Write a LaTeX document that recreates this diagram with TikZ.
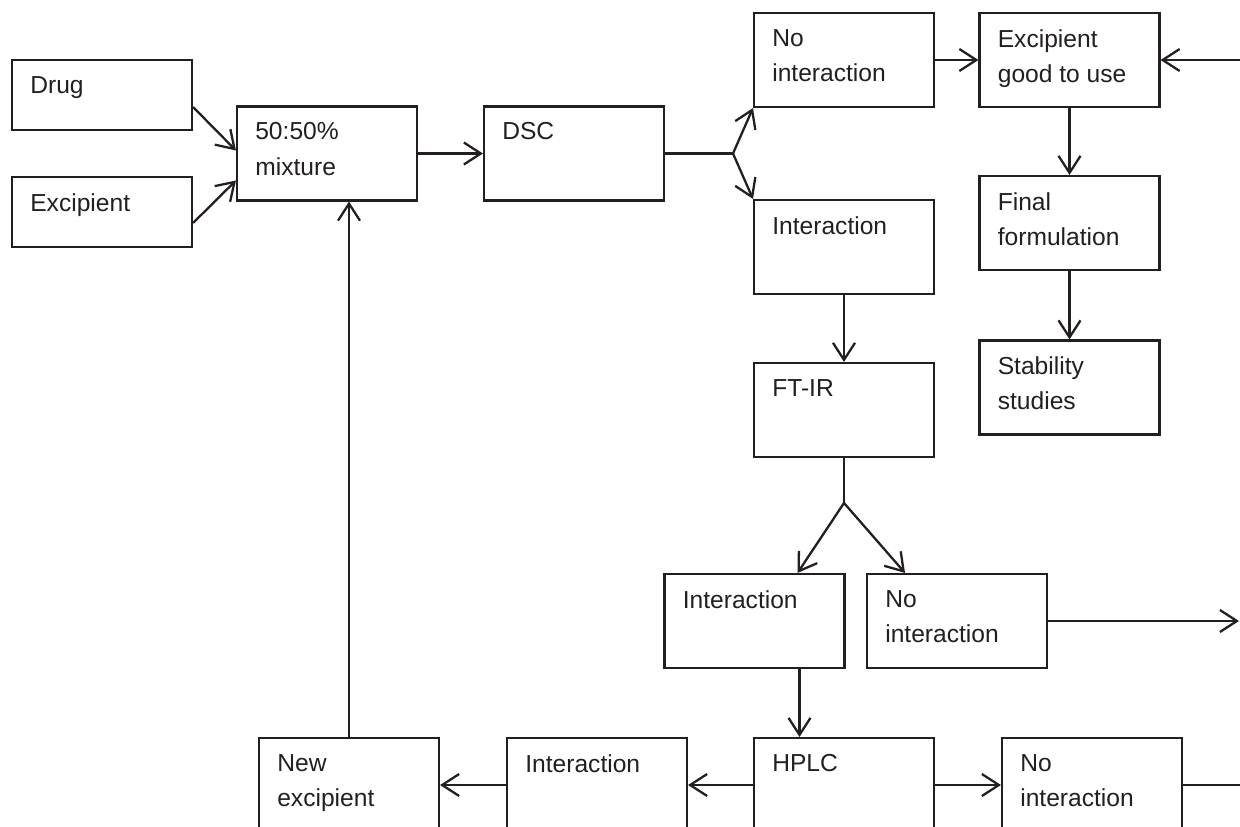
\documentclass[tikz,border=0pt]{standalone}
\usepackage{fontspec}
\setmainfont{Liberation Sans}
\usetikzlibrary{arrows.meta}
\definecolor{ink}{RGB}{35,31,32}

\tikzset{
  box/.style={draw=ink, line width=1.2pt, minimum width=3.6cm, minimum height=1.88cm, inner sep=0pt},
  txt/.style={anchor=north west, align=left, inner sep=0pt, xshift=0.38cm, yshift=-0.34cm,
    text=ink, font=\fontsize{14pt}{20pt}\selectfont},
  flow/.style={draw=ink, line width=1.3pt},
}

\begin{document}
\begin{tikzpicture}[x=0.02cm, y=-0.02cm, >={Straight Barb[length=3.4mm,width=4.4mm]}]
\useasboundingbox (0,0) rectangle (1240,827);
\clip (0,0) rectangle (1240,827);
\node [box, minimum height=1.4cm, label={[txt]north west:Drug}] (drug) at (102,95) {};
\node [box, minimum height=1.4cm, label={[txt]north west:Excipient}] (excip) at (102,212) {};
\node [box, label={[txt]north west:50{:}50\%\\mixture}] (mix) at (327,153.5) {};
\node [box, label={[txt]north west:DSC}] (dsc) at (574,153.5) {};
\node [box, label={[txt]north west:No\\interaction}] (noint) at (844,60) {};
\node [box, label={[txt]north west:Excipient\\good to use}] (good) at (1069.5,60) {};
\node [box, label={[txt]north west:Interaction}] (inter) at (844,247) {};
\node [box, label={[txt]north west:Final\\formulation}] (final) at (1069.5,223) {};
\node [box, label={[txt]north west:FT-IR}] (ftir) at (844,410) {};
\node [box, label={[txt]north west:Stability\\studies}] (stab) at (1069.5,387.5) {};
\node [box, label={[txt]north west:Interaction}] (ftinter) at (754.5,621) {};
\node [box, label={[txt]north west:No\\interaction}] (ftnoint) at (957,621) {};
\node [box, label={[txt]north west:HPLC}] (hplc) at (844,785) {};
\node [box, label={[txt]north west:Interaction}] (hpinter) at (597,785) {};
\node [box, label={[txt]north west:New\\excipient}] (newexc) at (349,785) {};
\node [box, label={[txt]north west:No\\interaction}] (hpnoint) at (1092,785) {};
\coordinate (dscsplit) at (733,153.5);
\coordinate (ftsplit) at (844,503);
\coordinate (edgetop) at (1240,60);
\coordinate (edgemid) at (1239,621);
\coordinate (edgebot) at (1240,785);
% drug and excipient into the mixture
\draw [flow, ->] ([yshift=-0.24cm]drug.east) -- ([yshift=0.06cm]mix.west);
\draw [flow, ->] ([yshift=-0.22cm]excip.east) -- ([yshift=-0.54cm]mix.west);
\draw [flow, ->] (mix) -- (dsc);
\draw [flow] (dsc.east) -- (dscsplit);
\draw [flow, ->] (dscsplit) -- (noint.south west);
\draw [flow, ->] (dscsplit) -- (inter.north west);
\draw [flow, ->] (noint) -- (good);
\draw [flow, ->] (edgetop) -- (good.east);
\draw [flow, ->] (good) -- (final);
\draw [flow, ->] (final) -- (stab);
\draw [flow, ->] (inter) -- (ftir);
\draw [flow] (ftir.south) -- (ftsplit);
\draw [flow, ->] (ftsplit) -- ([xshift=0.86cm]ftinter.north);
\draw [flow, ->] (ftsplit) -- ([xshift=-1.04cm]ftnoint.north);
\draw [flow, ->] (ftnoint.east) -- (edgemid);
\draw [flow, ->] ([xshift=0.9cm]ftinter.south) -- ([xshift=0.9cm]ftinter.south |- hplc.north);
\draw [flow, ->] (hplc) -- (hpinter);
\draw [flow, ->] (hpinter) -- (newexc);
\draw [flow, ->] (hplc) -- (hpnoint);
\draw [flow] (hpnoint.east) -- (edgebot);
\draw [flow, ->] (newexc.north) -- (newexc.north |- mix.south);
\end{tikzpicture}
\end{document}
